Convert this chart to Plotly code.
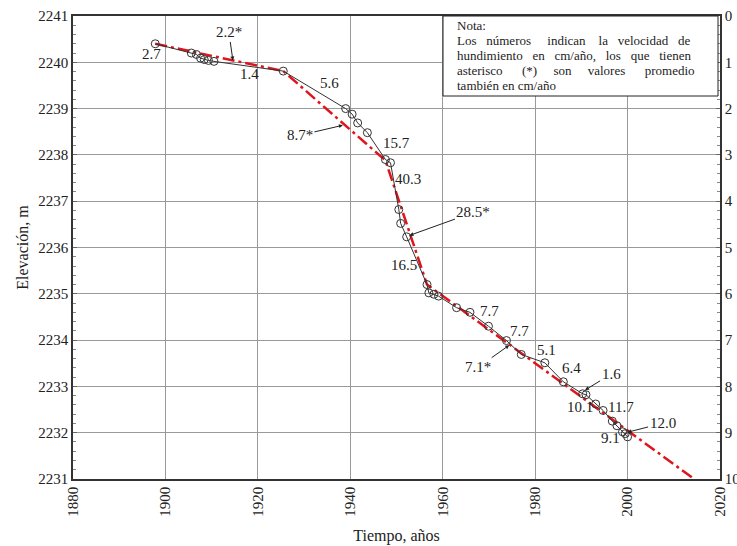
import plotly.graph_objects as go

# Measured levelling data (black line with open circles)
years = [1897.8, 1905.6, 1906.7, 1907.6, 1908.4, 1909.3, 1910.5, 1925.5, 1939.0, 1940.4,
         1941.6, 1943.7, 1947.6, 1948.7, 1950.5, 1950.9, 1952.2, 1956.6, 1957.0, 1958.1,
         1959.1, 1963.0, 1965.9, 1969.9, 1973.8, 1977.0, 1982.1, 1986.1, 1990.3, 1991.0,
         1993.1, 1994.7, 1996.7, 1997.7, 1998.9, 1999.5, 2000.0]
elev = [2240.40, 2240.20, 2240.17, 2240.09, 2240.06, 2240.04, 2240.02, 2239.81, 2239.00, 2238.88,
        2238.69, 2238.48, 2237.90, 2237.83, 2236.82, 2236.52, 2236.23, 2235.20, 2235.02, 2234.99,
        2234.95, 2234.70, 2234.60, 2234.30, 2233.99, 2233.69, 2233.51, 2233.10, 2232.84, 2232.82,
        2232.62, 2232.48, 2232.25, 2232.15, 2232.02, 2231.98, 2231.91]

# Average-rate trend (red dash-dot)
trend_years = [1897.8, 1925.5, 1947.6, 1956.6, 2014.4]
trend_elev = [2240.40, 2239.81, 2237.88, 2235.20, 2231.0]

# Rate labels without arrows
lab_text = ["2.7", "1.4", "5.6", "15.7", "40.3", "16.5", "7.7", "7.7", "5.1", "6.4", "10.1", "11.7", "9.1"]
lab_x = [1897.0, 1918.2, 1935.5, 1949.9, 1952.4, 1951.6, 1970.2, 1976.7, 1982.5, 1987.8, 1989.6, 1998.6, 1996.2]
lab_y = [2240.19, 2239.74, 2239.55, 2238.26, 2237.47, 2235.62, 2234.62, 2234.19, 2233.78, 2233.40, 2232.56, 2232.56, 2231.89]

# Rate labels with leader arrows
arr_text = ["2.2*", "8.7*", "28.5*", "7.1*", "1.6", "12.0"]
arr_x = [1914.6, 1938.4, 1952.8, 1974.4, 1990.8, 2000.0]
arr_y = [2240.04, 2238.64, 2236.26, 2233.89, 2232.92, 2232.01]
arr_ax = [-4, -43, 64, -31, 26, 35]
arr_ay = [-28, 10, -23, 22, -16, -9]

x_ticks = [1880, 1900, 1920, 1940, 1960, 1980, 2000, 2020]

NB = "&nbsp;"
note_lines = ["Nota:",
              "Los" + NB * 3 + "números" + NB * 5 + "indican" + NB * 4 + "la" + NB * 3 + "velocidad" + NB * 3 + "de",
              "hundimiento" + NB * 3 + "en" + NB * 3 + "cm/año," + NB * 3 + "los" + NB * 3 + "que" + NB * 3 + "tienen",
              "asterisco" + NB * 6 + "(*)" + NB * 5 + "son" + NB * 5 + "valores" + NB * 6 + "promedio",
              "también en cm/año"]

FONT = "Liberation Serif, Times New Roman, serif"
W, H = 737, 546
ML, MR, MT, MB = 73, 17, 16, 67
PW, PH = W - ML - MR, H - MT - MB


def px_x(px):
    return (px - ML) / PW


def px_y(py):
    return 1 - (py - MT) / PH


fig = go.Figure()
fig.add_trace(go.Scatter(
    x=trend_years, y=trend_elev, mode="lines",
    line=dict(color="#e0141c", width=2.5, dash="12px,4px,3px,4px"),
    showlegend=False, hoverinfo="skip"))
fig.add_trace(go.Scatter(
    x=years, y=elev, mode="lines+markers",
    line=dict(color="#333333", width=1),
    marker=dict(symbol="circle-open", size=8, color="#333333", line=dict(width=1)),
    showlegend=False))
# invisible trace for right axis
fig.add_trace(go.Scatter(x=[1880], y=[0], yaxis="y2", mode="markers",
                         marker=dict(opacity=0), showlegend=False, hoverinfo="skip"))

annotations = []
for t, x, y in zip(lab_text, lab_x, lab_y):
    annotations.append(dict(x=x, y=y, text=t, showarrow=False,
                            font=dict(family=FONT, size=15, color="#222")))
for t, x, y, ax, ay in zip(arr_text, arr_x, arr_y, arr_ax, arr_ay):
    annotations.append(dict(x=x, y=y, text=t, showarrow=True, ax=ax, ay=ay,
                            arrowhead=2, arrowsize=0.8, arrowwidth=1, arrowcolor="#222",
                            font=dict(family=FONT, size=15, color="#222")))

note_y = [25, 40.2, 55.4, 70.6, 85.8]
for t, yy in zip(note_lines, note_y):
    annotations.append(dict(xref="paper", yref="paper", x=px_x(455), y=px_y(yy),
                            xanchor="left", yanchor="middle", showarrow=False,
                            text=t, font=dict(family=FONT, size=13, color="#222")))

shapes = [dict(type="rect", xref="paper", yref="paper",
               x0=px_x(443), x1=px_x(718), y0=px_y(96), y1=1,
               line=dict(color="#222", width=1), fillcolor="white", layer="above")]

fig.update_layout(
    width=W, height=H,
    margin=dict(l=ML, r=MR, t=MT, b=MB),
    paper_bgcolor="white", plot_bgcolor="white",
    font=dict(family=FONT, size=15, color="#222"),
    annotations=annotations, shapes=shapes,
    xaxis=dict(range=[1880, 2020], tickvals=x_ticks, tickangle=-90, automargin=False,
               showgrid=True, gridcolor="#9a9a9a", gridwidth=1,
               showline=True, linecolor="#333", linewidth=1.5, mirror=True,
               ticks="", zeroline=False,
               title=dict(text="Tiempo, años", font=dict(size=16), standoff=14)),
    yaxis=dict(range=[2231, 2241], dtick=1, tickformat="d", automargin=False,
               showgrid=True, gridcolor="#9a9a9a", gridwidth=1,
               showline=True, linecolor="#333", linewidth=1.5,
               ticks="inside", ticklen=4, tickcolor="#666",
               minor=dict(dtick=0.2, ticks="inside", ticklen=3, tickcolor="#888", showgrid=False),
               zeroline=False,
               title=dict(text="Elevación, m", font=dict(size=16), standoff=6)),
    yaxis2=dict(range=[10, 0], dtick=1, overlaying="y", side="right", automargin=False,
                showgrid=False, showline=True, linecolor="#333", linewidth=1.5,
                ticks="inside", ticklen=4, tickcolor="#666",
                minor=dict(dtick=0.2, ticks="inside", ticklen=3, tickcolor="#888"),
                zeroline=False),
)

fig.write_html("out.html")
